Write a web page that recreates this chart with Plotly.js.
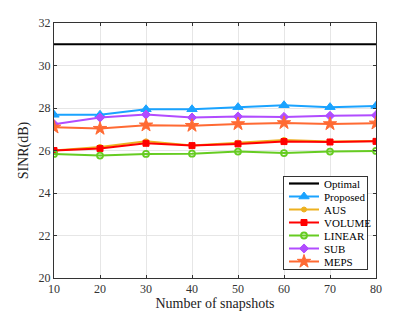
<!DOCTYPE html>
<html>
<head>
<meta charset="utf-8">
<script src="https://cdn.plot.ly/plotly-3.0.1.min.js"></script>
<style>html,body{margin:0;padding:0;background:#fff;}#chart{width:415px;height:312px;}</style>
</head>
<body>
<div id="chart"></div>
<script>
const snapshots = [10, 20, 30, 40, 50, 60, 70, 80];
const optimal  = [31, 31, 31, 31, 31, 31, 31, 31];
const proposed = [27.68, 27.68, 27.94, 27.94, 28.04, 28.13, 28.04, 28.10];
const aus      = [26.00, 26.17, 26.43, 26.23, 26.37, 26.50, 26.42, 26.45];
const volume   = [26.00, 26.09, 26.34, 26.23, 26.31, 26.42, 26.40, 26.43];
const linear   = [25.84, 25.76, 25.84, 25.85, 25.95, 25.88, 25.95, 25.98];
const sub      = [27.24, 27.55, 27.69, 27.55, 27.60, 27.58, 27.63, 27.66];
const meps     = [27.09, 27.03, 27.19, 27.17, 27.25, 27.30, 27.25, 27.28];
const yTicks = [20, 22, 24, 26, 28, 30, 32];
const xTicks = [10, 20, 30, 40, 50, 60, 70, 80];

function tr(name, y, color, symbol, size, open) {
  return {
    x: snapshots, y: y, name: name, type: 'scatter', mode: 'lines+markers',
    line: {color: color, width: 2},
    marker: {symbol: symbol, size: size, color: color, line: {color: color, width: open ? 1.8 : 1}}
  };
}

const data = [
  {x: snapshots, y: optimal, name: 'Optimal', type: 'scatter', mode: 'lines', line: {color: '#000000', width: 2.2}},
  tr('Proposed', proposed, '#1AA3FF', 'triangle-up', 9),
  tr('AUS', aus, '#EDB120', 'circle', 5),
  tr('VOLUME', volume, '#FF0000', 'square', 6),
  tr('LINEAR', linear, '#66CC22', 'circle-open', 6, true),
  tr('SUB', sub, '#B14CFF', 'diamond', 7),
  tr('MEPS', meps, '#FF6A33', 'star', 10)
];

const layout = {
  width: 415, height: 312,
  margin: {l: 54, r: 39, t: 23, b: 34, autoexpand: false},
  paper_bgcolor: '#ffffff', plot_bgcolor: '#ffffff',
  font: {family: 'Liberation Serif, Times New Roman, serif', color: '#333333', size: 12},
  showlegend: true,
  legend: {
    x: 0.711, y: 0.99, xanchor: 'left', yanchor: 'top',
    bgcolor: '#ffffff', bordercolor: '#333333', borderwidth: 1,
    font: {family: 'Liberation Serif, serif', size: 11, color: '#000000'},
    tracegroupgap: 0, itemwidth: 30
  },
  xaxis: {
    range: [10, 80], tickvals: xTicks, ticktext: xTicks.map(String),
    showgrid: true, gridcolor: '#e6e6e6', gridwidth: 1,
    ticks: 'inside', ticklen: 3, tickcolor: '#333333',
    showline: true, linecolor: '#333333', linewidth: 1, mirror: 'ticks',
    zeroline: false,
    tickfont: {size: 12, color: '#333333'},
    title: {text: 'Number of snapshots', font: {size: 14, color: '#222222'}, standoff: 2}
  },
  yaxis: {
    range: [20, 32], tickvals: yTicks, ticktext: yTicks.map(String),
    showgrid: true, gridcolor: '#e6e6e6', gridwidth: 1,
    ticks: 'inside', ticklen: 3, tickcolor: '#333333',
    showline: true, linecolor: '#333333', linewidth: 1, mirror: 'ticks',
    zeroline: false,
    tickfont: {size: 12, color: '#333333'},
    title: {text: 'SINR(dB)', font: {size: 14, color: '#222222'}, standoff: 6}
  }
};

Plotly.newPlot('chart', data, layout, {staticPlot: true, displayModeBar: false}).then(function (gd) {
  // compact the legend rows (MATLAB-style tight legend)
  const leg = gd.querySelector('g.legend');
  if (!leg) return;
  const rowH = 13, top = 7.5;
  const items = leg.querySelectorAll('g.traces');
  items.forEach(function (g, i) {
    g.setAttribute('transform', 'translate(1,' + (top + i * rowH) + ')');
  });
  const bg = leg.querySelector('rect.bg');
  const h = items.length * rowH + 2;
  const w = 84;
  if (bg) { bg.setAttribute('height', h); bg.setAttribute('width', w); }
  leg.querySelectorAll('clipPath rect, .scrollbox').forEach(function (r) {
    if (r.tagName === 'rect') { r.setAttribute('height', h); r.setAttribute('width', w); }
  });
  leg.setAttribute('transform', 'translate(283,176)');
  const sb = leg.querySelector('.scrollbox');
  if (sb) sb.removeAttribute('clip-path');
});
</script>
</body>
</html>
